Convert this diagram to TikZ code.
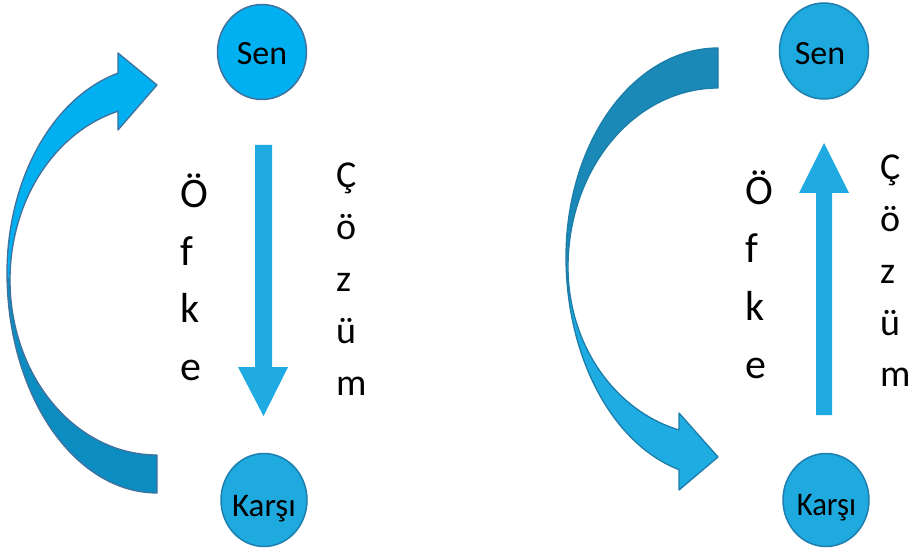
\documentclass[tikz,border=0pt]{standalone}
\usepackage{fontspec}
\setmainfont{Carlito}
\usetikzlibrary{shapes.geometric}
\definecolor{lightA}{HTML}{00B0F0}
\definecolor{darkA}{HTML}{0B8DC1}
\definecolor{lineA}{HTML}{41719C}
\definecolor{darkB}{HTML}{1A89B7}
\definecolor{lightB}{HTML}{1EACE2}
\definecolor{lineB}{HTML}{1B7DA8}
\definecolor{arrowfill}{HTML}{1FAAE2}
\definecolor{circA}{HTML}{00B0F0}
\definecolor{circB}{HTML}{1EA9DF}
\definecolor{lineC}{HTML}{1F7FAE}
\begin{document}
\begin{tikzpicture}[x=1pt,y=-1pt,
  circbase/.style={ellipse, line width=1.5pt, inner sep=0pt},
  circone/.style={circbase, fill=circA, draw=lineA},
  circtwo/.style={circbase, fill=circB, draw=lineC},
  circtext/.style={inner sep=0pt, anchor=base, font=\fontsize{34}{40}\selectfont},
  bigletter/.style={inner sep=0pt, anchor=base west, font=\fontsize{42}{50}\selectfont},
  smallletter/.style={inner sep=0pt, anchor=base west, font=\fontsize{38}{45}\selectfont},
  straightarrow/.style={fill=arrowfill, draw=none},
  ell/.style={domain=#1, samples=60, variable=\t}
]
\useasboundingbox (0,0) rectangle (919,556);
\fill[white] (0,0) rectangle (919,556);

% ---------------- left curved arrow ----------------
\fill[darkA] (157,493)
  -- plot[ell=90:180] ({157+150*cos(\t)},{273+220*sin(\t)})
  -- plot[ell=180:90] ({157+147*cos(\t)},{280+175*sin(\t)}) -- cycle;
\fill[lightA] (7,273)
  -- plot[ell=180:254.9] ({157+150*cos(\t)},{273+207*sin(\t)})
  -- (118,53) -- (157,85) -- (118,130)
  -- plot[ell=254.6:180] ({157+147*cos(\t)},{280+175*sin(\t)}) -- cycle;
\draw[lineA, line width=1.3pt, line join=round] (157,493)
  -- plot[ell=90:180] ({157+150*cos(\t)},{273+220*sin(\t)})
  -- plot[ell=180:254.9] ({157+150*cos(\t)},{273+207*sin(\t)})
  -- (118,53) -- (157,85) -- (118,130)
  -- plot[ell=254.6:180] ({157+147*cos(\t)},{280+175*sin(\t)})
  -- plot[ell=180:90] ({157+147*cos(\t)},{280+175*sin(\t)}) -- cycle;

% ---------------- right curved arrow ----------------
\fill[darkB] (718,48)
  -- plot[ell=270:180] ({718+152*cos(\t)},{257+209*sin(\t)})
  -- plot[ell=180:270] ({718+150*cos(\t)},{267+179*sin(\t)}) -- cycle;
\fill[lightB] (566,257)
  -- plot[ell=180:104.87] ({718+152*cos(\t)},{257+220*sin(\t)})
  -- (679,490) -- (718,457) -- (679,413)
  -- plot[ell=105.07:180] ({718+150*cos(\t)},{267+168.8*sin(\t)}) -- cycle;
\draw[lineB, line width=1.3pt, line join=round] (718,48)
  -- plot[ell=270:180] ({718+152*cos(\t)},{257+209*sin(\t)})
  -- plot[ell=180:104.87] ({718+152*cos(\t)},{257+220*sin(\t)})
  -- (679,490) -- (718,457) -- (679,413)
  -- plot[ell=105.07:180] ({718+150*cos(\t)},{267+168.8*sin(\t)})
  -- plot[ell=180:270] ({718+150*cos(\t)},{267+179*sin(\t)}) -- cycle;

% ---------------- circles ----------------
\node[circone, minimum width=89pt, minimum height=95pt] (sen1) at (262,52) {};
\node[circtwo, minimum width=86pt, minimum height=93pt] (karsi1) at (264,500) {};
\node[circtwo, minimum width=89pt, minimum height=96pt] (sen2) at (824,51) {};
\node[circtwo, minimum width=86pt, minimum height=93pt] (karsi2) at (826,500) {};
\node[circtext] (sen1t) at (262,65) {Sen};
\node[circtext, font=\fontsize{33}{39}\selectfont] (karsi1t) at (264,516) {Karşı};
\node[circtext] (sen2t) at (820,65) {Sen};
\node[circtext, font=\fontsize{33}{39}\selectfont, xscale=0.93] (karsi2t) at (826.5,515) {Karşı};

% ---------------- straight arrows ----------------
\coordinate (a1tip) at (263.5,416);
\fill[straightarrow] (255,145) -- (272,145) -- (272,367) -- (288,367) -- (a1tip) -- (238,367) -- (255,367) -- cycle;
\coordinate (a2tip) at (824,143);
\fill[straightarrow] (816,415) -- (832,415) -- (832,193) -- (849,193) -- (a2tip) -- (799,193) -- (816,193) -- cycle;

% ---------------- texts left ----------------
\node[bigletter] (lo1) at (180,208) {Ö};
\node[bigletter] (lo2) at (180,265.5) {f};
\node[bigletter] (lo3) at (180,323) {k};
\node[bigletter] (lo4) at (180,380.5) {e};
\node[smallletter] (lc1) at (336,187.5) {Ç};
\node[smallletter] (lc2) at (336,239.5) {ö};
\node[smallletter] (lc3) at (336,291.5) {z};
\node[smallletter] (lc4) at (336,343.5) {ü};
\node[smallletter] (lc5) at (336,395.5) {m};

% ---------------- texts right ----------------
\node[bigletter] (ro1) at (745,205) {Ö};
\node[bigletter] (ro2) at (745,262.7) {f};
\node[bigletter] (ro3) at (745,320.3) {k};
\node[bigletter] (ro4) at (745,378) {e};
\node[smallletter] (rc1) at (880,180) {Ç};
\node[smallletter] (rc2) at (880,231.7) {ö};
\node[smallletter] (rc3) at (880,283.4) {z};
\node[smallletter] (rc4) at (880,335) {ü};
\node[smallletter] (rc5) at (880,386.7) {m};
\end{tikzpicture}
\end{document}
